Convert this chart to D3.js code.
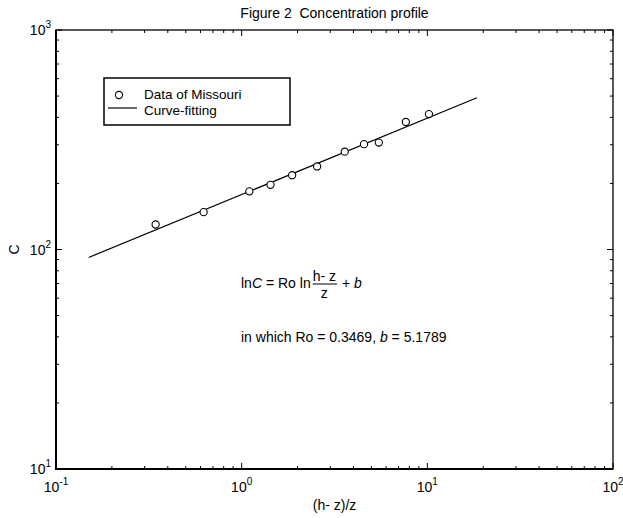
<!DOCTYPE html>
<html>
<head>
<meta charset="utf-8">
<script src="https://cdn.jsdelivr.net/npm/d3@7"></script>
<style>
  body { margin: 0; background: #fff; }
  text { font-family: "Liberation Sans", Arial, sans-serif; fill: #000; }
</style>
</head>
<body>
<div id="chart"></div>
<script>
const ratio = [0.344, 0.624, 1.10, 1.43, 1.87, 2.55, 3.59, 4.56, 5.48, 7.66, 10.2];
const conc = [130, 148, 184, 197, 218, 239, 279, 302, 307, 381, 414];

// fitted line end points
const fitRatio = [0.15, 18.5];
const fitConc = [92, 491];

const xDomain = [0.1, 100];
const yDomain = [10, 1000];
const xExp = [-1, 0, 1, 2];
const yExp = [1, 2, 3];

const width = 623;
const height = 518;
const margin = { top: 30, right: 10, bottom: 49, left: 56 };

const svg = d3.select("#chart")
    .append("svg")
    .attr("width", width)
    .attr("height", height);

const x = d3.scaleLog().domain(xDomain).range([margin.left, width - margin.right]);
const y = d3.scaleLog().domain(yDomain).range([height - margin.bottom, margin.top]);

const x0 = x.range()[0], x1 = x.range()[1];
const y0 = y.range()[0], y1 = y.range()[1];

// minor + major tick values
function logTicks(domain) {
    const out = [];
    for (let e = Math.log10(domain[0]); e < Math.log10(domain[1]); e++) {
        for (let m = 1; m < 10; m++) out.push({ v: m * Math.pow(10, e), major: m === 1 });
    }
    out.push({ v: domain[1], major: true });
    return out;
}
const xt = logTicks(xDomain);
const yt = logTicks(yDomain);
const majorLen = 6, minorLen = 3;

const ticks = svg.append("g").attr("stroke", "#000").attr("stroke-width", 1);

// bottom and top ticks
ticks.selectAll(".xb").data(xt).join("line")
    .attr("x1", d => x(d.v)).attr("x2", d => x(d.v))
    .attr("y1", y0).attr("y2", d => y0 - (d.major ? majorLen : minorLen));
ticks.selectAll(".xt").data(xt).join("line")
    .attr("x1", d => x(d.v)).attr("x2", d => x(d.v))
    .attr("y1", y1).attr("y2", d => y1 + (d.major ? majorLen : minorLen));
// left and right ticks
ticks.selectAll(".yl").data(yt).join("line")
    .attr("y1", d => y(d.v)).attr("y2", d => y(d.v))
    .attr("x1", x0).attr("x2", d => x0 + (d.major ? majorLen : minorLen));
ticks.selectAll(".yr").data(yt).join("line")
    .attr("y1", d => y(d.v)).attr("y2", d => y(d.v))
    .attr("x1", x1).attr("x2", d => x1 - (d.major ? majorLen : minorLen));

// frame
svg.append("rect")
    .attr("x", x0).attr("y", y1)
    .attr("width", x1 - x0).attr("height", y0 - y1)
    .attr("fill", "none").attr("stroke", "#000").attr("stroke-width", 1.3);
svg.append("path")
    .attr("d", `M${x0},${y1}V${y0}H${x1}`)
    .attr("fill", "none").attr("stroke", "#000").attr("stroke-width", 2);

// tick labels 10^n
function powLabel(g, px, py, e, anchor) {
    const t = g.append("text").attr("x", px).attr("y", py)
        .attr("font-size", 14).attr("text-anchor", anchor);
    t.append("tspan").text("10");
    t.append("tspan").attr("font-size", 10).attr("dy", -7).text(e);
}
const xl = svg.append("g");
xExp.forEach(e => powLabel(xl, x(Math.pow(10, e)), y0 + 23, e, "middle"));
const yl = svg.append("g");
yExp.forEach(e => powLabel(yl, x0 - 5, y(Math.pow(10, e)) + 5, e, "end"));

// titles
svg.append("text").attr("x", (x0 + x1) / 2).attr("y", 18)
    .attr("text-anchor", "middle").attr("font-size", 14)
    .text("Figure 2\u00a0\u00a0Concentration profile");
svg.append("text").attr("x", (x0 + x1) / 2).attr("y", 510)
    .attr("text-anchor", "middle").attr("font-size", 14)
    .text("(h- z)/z");
svg.append("text")
    .attr("transform", `translate(19,${(y0 + y1) / 2}) rotate(-90)`)
    .attr("text-anchor", "middle").attr("font-size", 14)
    .text("C");

// fitted line
const line = d3.line().x(d => x(d[0])).y(d => y(d[1]));
svg.append("path")
    .datum(d3.zip(fitRatio, fitConc))
    .attr("d", line)
    .attr("fill", "none").attr("stroke", "#000").attr("stroke-width", 1.2);

// data points
svg.append("g").selectAll("circle")
    .data(d3.zip(ratio, conc))
    .join("circle")
    .attr("cx", d => x(d[0])).attr("cy", d => y(d[1]))
    .attr("r", 3.6)
    .attr("fill", "#fff").attr("stroke", "#000").attr("stroke-width", 1.1);

// legend
const lg = svg.append("g");
lg.append("rect").attr("x", 104).attr("y", 78).attr("width", 186).attr("height", 47)
    .attr("fill", "#fff").attr("stroke", "#000").attr("stroke-width", 1.5);
lg.append("circle").attr("cx", 119).attr("cy", 95).attr("r", 3.6)
    .attr("fill", "#fff").attr("stroke", "#000").attr("stroke-width", 1.1);
lg.append("text").attr("x", 144).attr("y", 98.5).attr("font-size", 13.5).text("Data of Missouri");
lg.append("line").attr("x1", 108).attr("x2", 137).attr("y1", 108).attr("y2", 108)
    .attr("stroke", "#000").attr("stroke-width", 1.2);
lg.append("text").attr("x", 144).attr("y", 114.5).attr("font-size", 13.5).text("Curve-fitting");

// equation
const eq = svg.append("g").attr("font-size", 14);
const eqX = 241, eqY = 288;
const part1 = eq.append("text").attr("x", eqX).attr("y", eqY).attr("font-size", 14);
part1.append("tspan").text("ln");
part1.append("tspan").attr("font-style", "italic").text("C");
part1.append("tspan").text(" = Ro ln");
const w1 = part1.node().getComputedTextLength();
const fx = eqX + w1 + 2;
const num = eq.append("text").attr("x", fx).attr("y", eqY - 7).attr("font-size", 14).text("h- z");
const fw = num.node().getComputedTextLength();
eq.append("line").attr("x1", fx).attr("x2", fx + fw + 1)
    .attr("y1", eqY - 4).attr("y2", eqY - 4).attr("stroke", "#000").attr("stroke-width", 1);
eq.append("text").attr("x", fx + fw / 2).attr("y", eqY + 10).attr("text-anchor", "middle")
    .attr("font-size", 14).text("z");
const part2 = eq.append("text").attr("x", fx + fw + 6).attr("y", eqY).attr("font-size", 14);
part2.append("tspan").text("+ ");
part2.append("tspan").attr("font-style", "italic").text("b");

const part3 = eq.append("text").attr("x", eqX).attr("y", 342).attr("font-size", 14);
part3.append("tspan").text("in which Ro = 0.3469, ");
part3.append("tspan").attr("font-style", "italic").text("b");
part3.append("tspan").text(" = 5.1789");
</script>
</body>
</html>
